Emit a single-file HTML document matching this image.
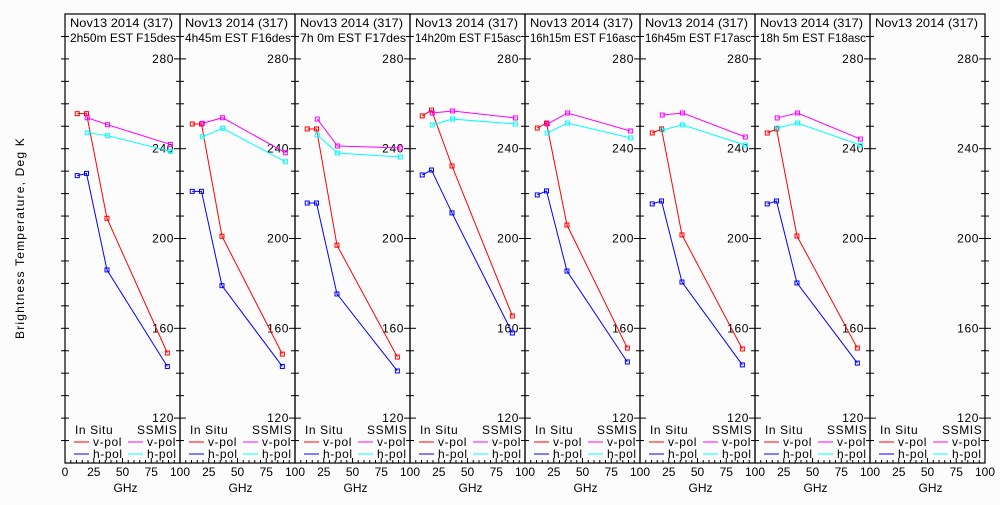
<!DOCTYPE html>
<html><head><meta charset="utf-8"><style>
body{margin:0;background:#fcfcfc;}
svg text{font-family:"Liberation Sans",sans-serif;font-size:12px;fill:#000;}
</style></head><body>
<svg id="c" width="1000" height="500" viewBox="0 0 1000 500"></svg>
<script>
const titles=["2h50m EST F15des","4h45m EST F16des","7h 0m EST F17des","14h20m EST F15asc","16h15m EST F16asc","16h45m EST F17asc","18h 5m EST F18asc",""];
const insituFreq=[10.65,18.7,36.5,89];
const ssmisFreq=[19.35,37,91.65];
const insituV=[[255.6,255.6,209,149],[251,251,201,148.5],[248.8,248.8,197,147.2],[254.6,257.2,232.3,165.5],[249.2,251.4,206,151.2],[247,248.8,201.6,150.8],[247,248.8,201.1,151.2],[]];
const insituH=[[228,229,186,143],[221,221,179,143],[215.8,215.8,175.3,141],[228.3,230.5,211.4,157.9],[219.4,221.2,185.5,145],[215.4,216.7,180.6,143.7],[215.4,216.7,180.2,144.5],[]];
const ssmisV=[[253.8,250.7,241.9],[251.3,253.8,238.2],[253.2,241.2,240.3],[255.9,256.8,253.7],[251,255.9,247.9],[255,255.9,245.2],[253.7,255.9,244.3],[]];
const ssmisH=[[247.1,245.8,238.8],[245.3,249.1,234.2],[246.1,238.1,236.3],[250.6,253.2,251],[247,251.4,244.8],[248.3,250.6,241.6],[249.2,251.4,241.6],[]];
const yTicks=[120,160,200,240,280];
const xTicks=[0,25,50,75,100];
const svg=document.getElementById('c');const NS='http://www.w3.org/2000/svg';
function mk(t,a,p){const e=document.createElementNS(NS,t);for(const k in a)e.setAttribute(k,a[k]);(p||svg).appendChild(e);return e;}
const X0=65,PW=115,TOP=14,BOT=463,YMIN=100,YMAX=300;
const ys=v=>TOP+(YMAX-v)*(BOT-TOP)/(YMAX-YMIN);
const yl=mk('text',{x:24,y:238,'text-anchor':'middle',transform:'rotate(-90 24 238)','font-size':'14','letter-spacing':'1.2'});
yl.textContent='Brightness Temperature, Deg K';
for(let p=0;p<8;p++){
 const L=X0+p*PW,R=L+PW;const xs=f=>L+f*PW/100;
 const g=mk('g',{});
 
 mk('rect',{x:L,y:TOP,width:PW,height:BOT-TOP,fill:'none',stroke:'#000','stroke-width':1.2},g);
 let t=mk('text',{x:L+5,y:27,'textLength':103,'lengthAdjust':'spacingAndGlyphs'},g);t.textContent='Nov13 2014 (317)';
 if(titles[p]){t=mk('text',{x:L+5,y:42,'textLength':106,'lengthAdjust':'spacingAndGlyphs'},g);t.textContent=titles[p];}
 for(let v=110;v<=290;v+=10){const y=ys(v);const big=v%40==0;
  mk('line',{x1:R-(big?6:4),x2:R+(big?6:4),y1:y,y2:y,stroke:'#000'},g);
  if(p==0)mk('line',{x1:L-4,x2:L+4,y1:y,y2:y,stroke:'#000'},g);}
 yTicks.forEach(v=>{const tt=mk('text',{x:R-6,y:ys(v)+4,'text-anchor':'end','letter-spacing':'0.6'},g);tt.textContent=v;});
 xTicks.forEach(v=>{mk('line',{x1:xs(v),x2:xs(v),y1:BOT-5,y2:BOT,stroke:'#000'},g);
  if(p>0&&v==0)return;const tt=mk('text',{x:xs(v),y:476,'text-anchor':'middle'},g);tt.textContent=v;});
 for(let v=5;v<100;v+=5)if(v%25)mk('line',{x1:xs(v),x2:xs(v),y1:BOT-3,y2:BOT,stroke:'#000'},g);
 t=mk('text',{x:L+PW/2+3,y:492,'text-anchor':'middle','font-size':'14'},g);t.textContent='GHz';
 const lg=mk('g',{},g);
 let a=mk('text',{x:L+10,y:434,'letter-spacing':'0.6'},lg);a.textContent='In Situ';
 a=mk('text',{x:L+72,y:434,'letter-spacing':'0.6'},lg);a.textContent='SSMIS';
 [['v-pol','#f00','#f0f',446],['h-pol','#00f','#0ff',458]].forEach(([n,c1,c2,y])=>{
  mk('line',{x1:L+9,x2:L+24,y1:y-4,y2:y-4,stroke:c1},lg);a=mk('text',{x:L+28,y:y,'letter-spacing':'0.6'},lg);a.textContent=n;
  mk('line',{x1:L+63,x2:L+78,y1:y-4,y2:y-4,stroke:c2},lg);a=mk('text',{x:L+82,y:y,'letter-spacing':'0.6'},lg);a.textContent=n;});
 const series=[[insituV[p],insituFreq,'#f00','insitu-vpol'],[insituH[p],insituFreq,'#00f','insitu-hpol'],[ssmisV[p],ssmisFreq,'#f0f','ssmis-vpol'],[ssmisH[p],ssmisFreq,'#0ff','ssmis-hpol']];
 series.forEach(([vals,fr,c,n])=>{if(!vals.length)return;
  const pts=vals.map((v,i)=>xs(fr[i])+','+ys(v)).join(' ');
  const pl=mk('polyline',{points:pts,fill:'none',stroke:c,'stroke-width':1},g);
  
  vals.forEach((v,i)=>{const r=mk('rect',{x:xs(fr[i])-2,y:ys(v)-2,width:4,height:4,fill:'none',stroke:c},g);
   });
 });
}
</script>
</body></html>
